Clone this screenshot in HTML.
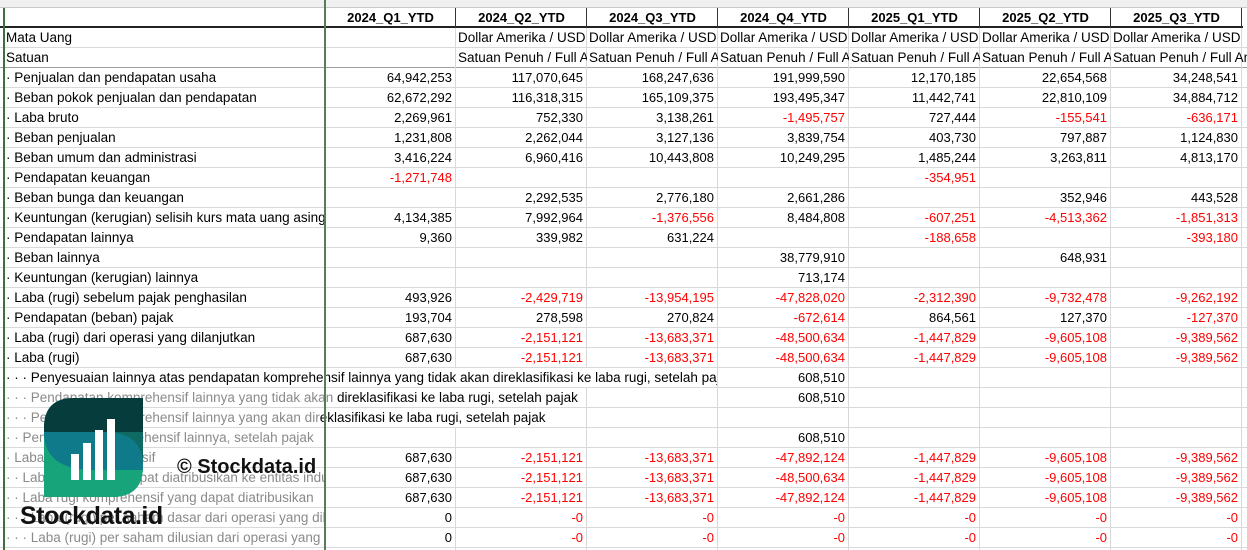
<!DOCTYPE html>
<html><head><meta charset="utf-8"><style>
*{margin:0;padding:0;box-sizing:border-box}
body{width:1247px;height:550px;overflow:hidden;background:#fff;font-family:"Liberation Sans",Arial,sans-serif;font-size:13px;color:#000;position:relative}
.hl{position:absolute;left:0;width:1247px;height:1px;background:#d9d9d9}
.vl{position:absolute;top:8px;width:1px;height:542px;background:#d9d9d9}
.r{position:absolute;left:0;width:1247px;height:20px;line-height:20px}
.r span{position:absolute;top:0;height:20px;white-space:nowrap;overflow:hidden}
.a{left:6px;width:318px;font-size:13.5px}
.n{text-align:right;width:127px}
.t{width:131px;padding-left:2px;font-size:13.5px}
.c1{left:325px}.c2{left:456px}.c3{left:587px}.c4{left:718px}.c5{left:849px}.c6{left:980px}.c7{left:1111px}
.neg{color:#ff0000}
.g{color:#8a8a8a}
.h{font-weight:bold;text-align:center;width:131px}
.w{font-size:13.5px}
</style></head><body>
<div style="position:absolute;left:0;top:0;width:1247px;height:8px;background:#f0f0f0;border-bottom:1px solid #c8c8c8"></div>
<div class="hl" style="top:47px"></div><div class="hl" style="top:67px;background:#a0a0a0"></div>
<div class="hl" style="top:87px"></div><div class="hl" style="top:107px"></div><div class="hl" style="top:127px"></div>
<div class="hl" style="top:147px"></div><div class="hl" style="top:167px"></div><div class="hl" style="top:187px"></div>
<div class="hl" style="top:207px"></div><div class="hl" style="top:227px"></div><div class="hl" style="top:247px"></div>
<div class="hl" style="top:267px"></div><div class="hl" style="top:287px"></div><div class="hl" style="top:307px"></div>
<div class="hl" style="top:327px"></div><div class="hl" style="top:347px"></div><div class="hl" style="top:367px"></div>
<div class="hl" style="top:387px"></div><div class="hl" style="top:407px"></div><div class="hl" style="top:427px"></div>
<div class="hl" style="top:447px"></div><div class="hl" style="top:467px"></div><div class="hl" style="top:487px"></div>
<div class="hl" style="top:507px"></div><div class="hl" style="top:527px"></div><div class="hl" style="top:547px"></div>
<div class="vl" style="left:455px"></div><div class="vl" style="left:586px"></div><div class="vl" style="left:717px"></div>
<div class="vl" style="left:848px"></div><div class="vl" style="left:979px"></div><div class="vl" style="left:1110px"></div>
<div class="vl" style="left:1241px"></div>
<div style="position:absolute;left:325px;top:8px;width:918px;height:20px;border-bottom:2px solid #222"></div>
<div style="position:absolute;left:0;top:26px;width:325px;height:2px;background:#222"></div>
<div style="position:absolute;top:8px;left:455px;width:1px;height:20px;background:#333"></div>
<div style="position:absolute;top:8px;left:586px;width:1px;height:20px;background:#333"></div>
<div style="position:absolute;top:8px;left:717px;width:1px;height:20px;background:#333"></div>
<div style="position:absolute;top:8px;left:848px;width:1px;height:20px;background:#333"></div>
<div style="position:absolute;top:8px;left:979px;width:1px;height:20px;background:#333"></div>
<div style="position:absolute;top:8px;left:1110px;width:1px;height:20px;background:#333"></div>
<div style="position:absolute;top:8px;left:1241px;width:1px;height:20px;background:#333"></div>
<div class="r" style="top:8px"><span class="h c1">2024_Q1_YTD</span><span class="h c2">2024_Q2_YTD</span><span class="h c3">2024_Q3_YTD</span><span class="h c4">2024_Q4_YTD</span><span class="h c5">2025_Q1_YTD</span><span class="h c6">2025_Q2_YTD</span><span class="h c7">2025_Q3_YTD</span></div>

<div class="r" style="top:28px"><span class="a">Mata Uang</span><span class="t c2">Dollar Amerika / USD</span><span class="t c3">Dollar Amerika / USD</span><span class="t c4">Dollar Amerika / USD</span><span class="t c5">Dollar Amerika / USD</span><span class="t c6">Dollar Amerika / USD</span><span class="t c7">Dollar Amerika / USD</span></div>
<div class="r" style="top:48px"><span class="a">Satuan</span><span class="t c2">Satuan Penuh / Full Amount</span><span class="t c3">Satuan Penuh / Full Amount</span><span class="t c4">Satuan Penuh / Full Amount</span><span class="t c5">Satuan Penuh / Full Amount</span><span class="t c6">Satuan Penuh / Full Amount</span><span class="t c7" style="width:136px">Satuan Penuh / Full Amount</span></div>

<div class="r" style="top:68px"><span class="a">· Penjualan dan pendapatan usaha</span><span class="n c1">64,942,253</span><span class="n c2">117,070,645</span><span class="n c3">168,247,636</span><span class="n c4">191,999,590</span><span class="n c5">12,170,185</span><span class="n c6">22,654,568</span><span class="n c7">34,248,541</span></div>
<div class="r" style="top:88px"><span class="a">· Beban pokok penjualan dan pendapatan</span><span class="n c1">62,672,292</span><span class="n c2">116,318,315</span><span class="n c3">165,109,375</span><span class="n c4">193,495,347</span><span class="n c5">11,442,741</span><span class="n c6">22,810,109</span><span class="n c7">34,884,712</span></div>
<div class="r" style="top:108px"><span class="a">· Laba bruto</span><span class="n c1">2,269,961</span><span class="n c2">752,330</span><span class="n c3">3,138,261</span><span class="n c4 neg">-1,495,757</span><span class="n c5">727,444</span><span class="n c6 neg">-155,541</span><span class="n c7 neg">-636,171</span></div>
<div class="r" style="top:128px"><span class="a">· Beban penjualan</span><span class="n c1">1,231,808</span><span class="n c2">2,262,044</span><span class="n c3">3,127,136</span><span class="n c4">3,839,754</span><span class="n c5">403,730</span><span class="n c6">797,887</span><span class="n c7">1,124,830</span></div>
<div class="r" style="top:148px"><span class="a">· Beban umum dan administrasi</span><span class="n c1">3,416,224</span><span class="n c2">6,960,416</span><span class="n c3">10,443,808</span><span class="n c4">10,249,295</span><span class="n c5">1,485,244</span><span class="n c6">3,263,811</span><span class="n c7">4,813,170</span></div>
<div class="r" style="top:168px"><span class="a">· Pendapatan keuangan</span><span class="n c1 neg">-1,271,748</span><span class="n c5 neg">-354,951</span></div>
<div class="r" style="top:188px"><span class="a">· Beban bunga dan keuangan</span><span class="n c2">2,292,535</span><span class="n c3">2,776,180</span><span class="n c4">2,661,286</span><span class="n c6">352,946</span><span class="n c7">443,528</span></div>
<div class="r" style="top:208px"><span class="a">· Keuntungan (kerugian) selisih kurs mata uang asing</span><span class="n c1">4,134,385</span><span class="n c2">7,992,964</span><span class="n c3 neg">-1,376,556</span><span class="n c4">8,484,808</span><span class="n c5 neg">-607,251</span><span class="n c6 neg">-4,513,362</span><span class="n c7 neg">-1,851,313</span></div>
<div class="r" style="top:228px"><span class="a">· Pendapatan lainnya</span><span class="n c1">9,360</span><span class="n c2">339,982</span><span class="n c3">631,224</span><span class="n c5 neg">-188,658</span><span class="n c7 neg">-393,180</span></div>
<div class="r" style="top:248px"><span class="a">· Beban lainnya</span><span class="n c4">38,779,910</span><span class="n c6">648,931</span></div>
<div class="r" style="top:268px"><span class="a">· Keuntungan (kerugian) lainnya</span><span class="n c4">713,174</span></div>
<div class="r" style="top:288px"><span class="a">· Laba (rugi) sebelum pajak penghasilan</span><span class="n c1">493,926</span><span class="n c2 neg">-2,429,719</span><span class="n c3 neg">-13,954,195</span><span class="n c4 neg">-47,828,020</span><span class="n c5 neg">-2,312,390</span><span class="n c6 neg">-9,732,478</span><span class="n c7 neg">-9,262,192</span></div>
<div class="r" style="top:308px"><span class="a">· Pendapatan (beban) pajak</span><span class="n c1">193,704</span><span class="n c2">278,598</span><span class="n c3">270,824</span><span class="n c4 neg">-672,614</span><span class="n c5">864,561</span><span class="n c6">127,370</span><span class="n c7 neg">-127,370</span></div>
<div class="r" style="top:328px"><span class="a">· Laba (rugi) dari operasi yang dilanjutkan</span><span class="n c1">687,630</span><span class="n c2 neg">-2,151,121</span><span class="n c3 neg">-13,683,371</span><span class="n c4 neg">-48,500,634</span><span class="n c5 neg">-1,447,829</span><span class="n c6 neg">-9,605,108</span><span class="n c7 neg">-9,389,562</span></div>
<div class="r" style="top:348px"><span class="a">· Laba (rugi)</span><span class="n c1">687,630</span><span class="n c2 neg">-2,151,121</span><span class="n c3 neg">-13,683,371</span><span class="n c4 neg">-48,500,634</span><span class="n c5 neg">-1,447,829</span><span class="n c6 neg">-9,605,108</span><span class="n c7 neg">-9,389,562</span></div>
<div class="r" style="top:368px"><span class="w" style="left:6px;width:711px;background:#fff;top:0;height:19px">· · · Penyesuaian lainnya atas pendapatan komprehensif lainnya yang tidak akan direklasifikasi ke laba rugi, setelah pajak</span><span class="n c4">608,510</span></div>
<div class="r" style="top:388px"><span class="w" style="left:6px;width:580px;background:#fff;height:19px"><span class="g" style="position:static">· · · Pendapatan komprehensif lainnya yang tidak akan </span>direklasifikasi ke laba rugi, setelah pajak</span><span class="n c4">608,510</span></div>
<div class="r" style="top:408px"><span class="w" style="left:6px;width:580px;background:#fff;height:19px"><span class="g" style="position:static">· · · Pendapatan komprehensif lainnya yang akan dir</span>eklasifikasi ke laba rugi, setelah pajak</span></div>
<div class="r" style="top:428px"><span class="a g">· · Pendapatan komprehensif lainnya, setelah pajak</span><span class="n c4">608,510</span></div>
<div class="r" style="top:448px"><span class="a g">· Laba rugi komprehensif</span><span class="n c1">687,630</span><span class="n c2 neg">-2,151,121</span><span class="n c3 neg">-13,683,371</span><span class="n c4 neg">-47,892,124</span><span class="n c5 neg">-1,447,829</span><span class="n c6 neg">-9,605,108</span><span class="n c7 neg">-9,389,562</span></div>
<div class="r" style="top:468px"><span class="a g">· · Laba (rugi) yang dapat diatribusikan ke entitas induk</span><span class="n c1">687,630</span><span class="n c2 neg">-2,151,121</span><span class="n c3 neg">-13,683,371</span><span class="n c4 neg">-48,500,634</span><span class="n c5 neg">-1,447,829</span><span class="n c6 neg">-9,605,108</span><span class="n c7 neg">-9,389,562</span></div>
<div class="r" style="top:488px"><span class="a g">· · Laba rugi komprehensif yang dapat diatribusikan</span><span class="n c1">687,630</span><span class="n c2 neg">-2,151,121</span><span class="n c3 neg">-13,683,371</span><span class="n c4 neg">-47,892,124</span><span class="n c5 neg">-1,447,829</span><span class="n c6 neg">-9,605,108</span><span class="n c7 neg">-9,389,562</span></div>
<div class="r" style="top:508px"><span class="a g">· · · Laba (rugi) per saham dasar dari operasi yang dilanjutkan</span><span class="n c1">0</span><span class="n c2 neg">-0</span><span class="n c3 neg">-0</span><span class="n c4 neg">-0</span><span class="n c5 neg">-0</span><span class="n c6 neg">-0</span><span class="n c7 neg">-0</span></div>
<div class="r" style="top:528px"><span class="a g">· · · Laba (rugi) per saham dilusian dari operasi yang dilanjutkan</span><span class="n c1">0</span><span class="n c2 neg">-0</span><span class="n c3 neg">-0</span><span class="n c4 neg">-0</span><span class="n c5 neg">-0</span><span class="n c6 neg">-0</span><span class="n c7 neg">-0</span></div>

<div style="position:absolute;left:324px;top:0;width:2px;height:550px;background:#5a7a5a"></div>
<div style="position:absolute;left:3px;top:8px;width:2px;height:542px;background:#3f6f3f"></div>

<svg style="position:absolute;left:44px;top:398px" width="100" height="100" viewBox="0 0 100 100">
<defs><clipPath id="lf"><path d="M30 0 H99 V68 Q99 99 68 99 H0 V30 Q0 0 30 0Z"/></clipPath></defs>
<g clip-path="url(#lf)">
<rect x="0" y="0" width="100" height="100" fill="#0f6a63"/>
<rect x="0" y="0" width="100" height="34" fill="#073c3c"/>
<path d="M0 34 H60 Q99 34 99 68 V72 H0Z" fill="#0e7a8a"/>
<path d="M0 34 Q0 72 50 72 H100 V100 H0Z" fill="#17a47a"/>
</g>
<rect x="27" y="56" width="8" height="26" fill="#fff"/>
<rect x="39" y="45" width="8" height="37" fill="#fff"/>
<rect x="51" y="32" width="8" height="50" fill="#fff"/>
<rect x="63" y="21" width="8" height="61" fill="#fff"/>
</svg>
<div style="position:absolute;left:20px;top:502px;font-size:25px;font-weight:bold;letter-spacing:-0.5px;color:#111">Stockdata.id</div>
<div style="position:absolute;left:177px;top:456px;font-size:20px;font-weight:bold;color:#111">© Stockdata.id</div>
</body></html>
